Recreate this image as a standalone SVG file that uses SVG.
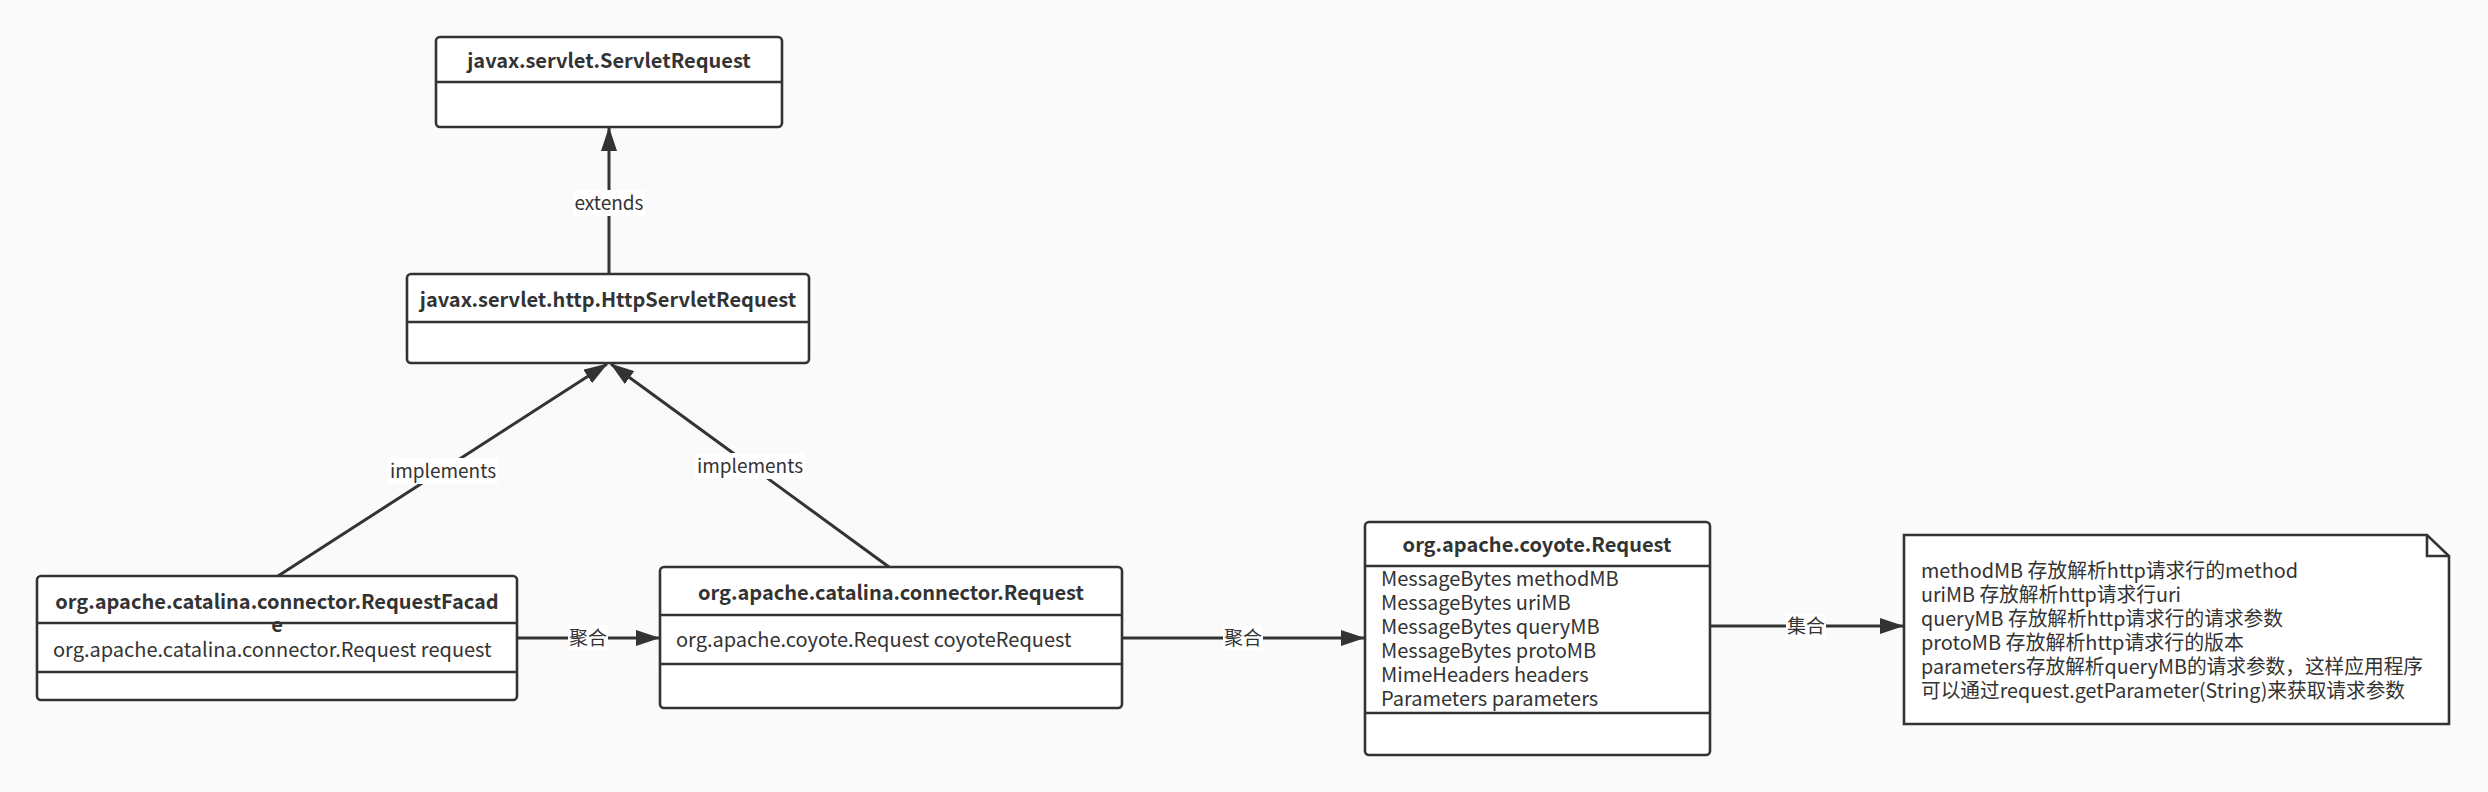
<svg xmlns="http://www.w3.org/2000/svg" width="2488" height="792" viewBox="0 0 2488 792">
<defs>
<style>
.box{fill:#ffffff;stroke:#333333;stroke-width:2.6}
.div{stroke:#333333;stroke-width:2.6;fill:none}
.line{stroke:#333333;stroke-width:3;fill:none}
.title{font-family:"Noto Sans CJK SC","Noto Sans",sans-serif;font-weight:bold;font-size:20px;fill:#333333;text-anchor:middle}
.attr{font-family:"Noto Sans CJK SC","Noto Sans",sans-serif;font-size:20px;fill:#333333}
.note{font-family:"Noto Sans CJK SC","Noto Sans",sans-serif;font-size:20px;fill:#333333}
.lbl{font-family:"Noto Sans CJK SC","Noto Sans",sans-serif;font-size:19px;fill:#333333;text-anchor:middle}
.lblbg{fill:#ffffff}
</style>
<marker id="arrow" viewBox="0 0 24 16" refX="23" refY="8" markerWidth="24" markerHeight="16" markerUnits="userSpaceOnUse" orient="auto">
<path d="M0,0 L24,8 L0,16 Z" fill="#333333"/>
</marker>
</defs>
<rect width="2488" height="792" fill="#fafafa"/>

<g id="connectors">
<line class="line" x1="609" y1="274" x2="609" y2="128" marker-end="url(#arrow)"/>
<line class="line" x1="278" y1="576" x2="607" y2="364" marker-end="url(#arrow)"/>
<line class="line" x1="889" y1="567" x2="611" y2="364" marker-end="url(#arrow)"/>
<line class="line" x1="517" y1="638" x2="659" y2="638" marker-end="url(#arrow)"/>
<line class="line" x1="1122" y1="638" x2="1364" y2="638" marker-end="url(#arrow)"/>
<line class="line" x1="1710" y1="626" x2="1903" y2="626" marker-end="url(#arrow)"/>
<rect class="lblbg" x="573" y="190" width="72" height="26"/>
<text class="lbl" x="609" y="210">extends</text>
<rect class="lblbg" x="388" y="458" width="110" height="26"/>
<text class="lbl" x="443" y="478">implements</text>
<rect class="lblbg" x="695" y="453" width="110" height="26"/>
<text class="lbl" x="750" y="473">implements</text>
<rect class="lblbg" x="568" y="625" width="40" height="26"/>
<text class="lbl" x="588" y="645">聚合</text>
<rect class="lblbg" x="1223" y="625" width="40" height="26"/>
<text class="lbl" x="1243" y="645">聚合</text>
<rect class="lblbg" x="1786" y="613" width="40" height="26"/>
<text class="lbl" x="1806" y="633">集合</text>
</g>

<g id="servletRequest">
<rect class="box" x="436" y="37" width="346" height="90" rx="4"/>
<line class="div" x1="436" y1="82" x2="782" y2="82"/>
<text class="title" x="609" y="68">javax.servlet.ServletRequest</text>
</g>

<g id="httpServletRequest">
<rect class="box" x="407" y="274" width="402" height="89" rx="4"/>
<line class="div" x1="407" y1="322" x2="809" y2="322"/>
<text class="title" x="608" y="307">javax.servlet.http.HttpServletRequest</text>
</g>

<g id="requestFacade">
<rect class="box" x="37" y="576" width="480" height="124" rx="4"/>
<line class="div" x1="37" y1="623" x2="517" y2="623"/>
<line class="div" x1="37" y1="672" x2="517" y2="672"/>
<text class="title" x="277" y="609">org.apache.catalina.connector.RequestFacad</text>
<text class="title" x="277" y="632">e</text>
<text class="attr" x="53" y="657">org.apache.catalina.connector.Request request</text>
</g>

<g id="connectorRequest">
<rect class="box" x="660" y="567" width="462" height="141" rx="4"/>
<line class="div" x1="660" y1="615" x2="1122" y2="615"/>
<line class="div" x1="660" y1="664" x2="1122" y2="664"/>
<text class="title" x="891" y="600">org.apache.catalina.connector.Request</text>
<text class="attr" x="676" y="647">org.apache.coyote.Request coyoteRequest</text>
</g>

<g id="coyoteRequest">
<rect class="box" x="1365" y="522" width="345" height="233" rx="4"/>
<line class="div" x1="1365" y1="566" x2="1710" y2="566"/>
<line class="div" x1="1365" y1="713" x2="1710" y2="713"/>
<text class="title" x="1537" y="552">org.apache.coyote.Request</text>
<text class="attr" x="1381" y="586">MessageBytes methodMB</text>
<text class="attr" x="1381" y="610">MessageBytes uriMB</text>
<text class="attr" x="1381" y="634">MessageBytes queryMB</text>
<text class="attr" x="1381" y="658">MessageBytes protoMB</text>
<text class="attr" x="1381" y="682">MimeHeaders headers</text>
<text class="attr" x="1381" y="706">Parameters parameters</text>
</g>

<g id="note">
<path class="box" d="M1904,535 L2427,535 L2449,556 L2449,724 L1904,724 Z"/>
<path class="div" d="M2427,535 L2427,556 L2449,556"/>
<text class="note" x="1921" y="578" textLength="377" lengthAdjust="spacingAndGlyphs">methodMB 存放解析http请求行的method</text>
<text class="note" x="1921" y="602" textLength="260" lengthAdjust="spacingAndGlyphs">uriMB 存放解析http请求行uri</text>
<text class="note" x="1921" y="626" textLength="362" lengthAdjust="spacingAndGlyphs">queryMB 存放解析http请求行的请求参数</text>
<text class="note" x="1921" y="650" textLength="323" lengthAdjust="spacingAndGlyphs">protoMB 存放解析http请求行的版本</text>
<text class="note" x="1921" y="674" textLength="502" lengthAdjust="spacingAndGlyphs">parameters存放解析queryMB的请求参数，这样应用程序</text>
<text class="note" x="1921" y="698" textLength="484" lengthAdjust="spacingAndGlyphs">可以通过request.getParameter(String)来获取请求参数</text>
</g>
</svg>
